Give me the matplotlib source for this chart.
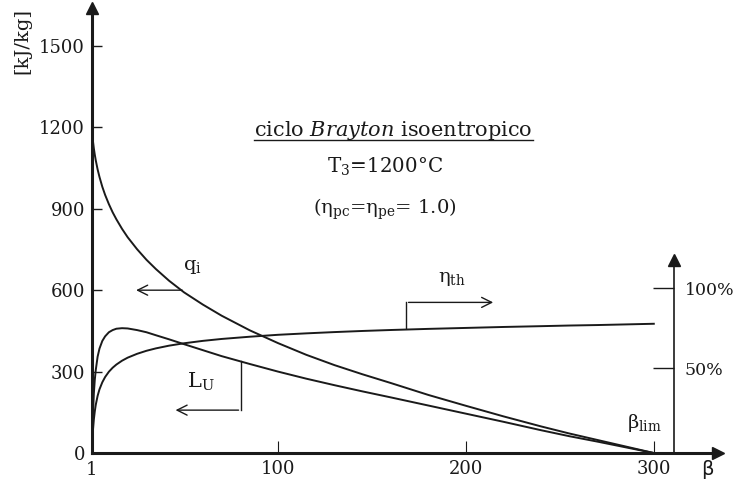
"""
Brayton cycle: heat input, useful work and thermal efficiency vs pressure ratio
"""
import matplotlib.pyplot as plt
from matplotlib.lines import Line2D

plt.rcParams["mathtext.fontset"] = "dejavuserif"
plt.rcParams["font.family"] = "DejaVu Serif"

# values
beta = [1, 1.2, 1.5, 2, 2.5, 3, 4, 5, 6.5, 8, 10, 12, 14, 17, 20, 25, 30, 35, 42,
        50, 60, 70, 85, 100, 115, 130, 145, 160, 180, 200, 220, 240, 255, 270, 285, 300]
q_in = [1185, 1170, 1150, 1122, 1099, 1079, 1045, 1017, 981, 951, 917, 887, 861,
        826, 795, 751, 712, 678, 635, 592, 547, 506, 452, 405, 362, 324, 290, 258,
        214, 174, 135, 98, 72, 48, 24, 0]
work = [0, 70, 140, 220, 270, 305, 355, 385, 413, 430, 445, 453, 458, 460, 459,
        453, 445, 434, 419, 401, 379, 357, 328, 300, 274, 250, 227, 205, 175, 145,
        115, 84, 62, 42, 21, 0]
eta = [0.0, 0.05, 0.11, 0.18, 0.23, 0.27, 0.327, 0.368, 0.412, 0.445, 0.478, 0.503,
       0.523, 0.547, 0.566, 0.59, 0.609, 0.624, 0.641, 0.656, 0.671, 0.683, 0.697,
       0.709, 0.718, 0.726, 0.733, 0.739, 0.746, 0.752, 0.758, 0.763, 0.767, 0.77,
       0.774, 0.778]

x_ticks = [100, 200, 300]
x_labels = ["100", "200", "300"]
y_ticks = [0, 300, 600, 900, 1200, 1500]
eta_ticks = [0.5, 1.0]
eta_labels = ["50%", "100%"]

ink = "#1a1a1a"
fs = 13

fig = plt.figure(figsize=(7.37, 4.88), dpi=100)
ax = fig.add_axes([0.1248, 0.0717, 0.849, 0.912])
ax.set_xlim(1, 334)
ax.set_ylim(0, 1640)

ax.plot(beta, q_in, color=ink, lw=1.4)
ax.plot(beta, work, color=ink, lw=1.4)

for side in ["top", "right"]:
    ax.spines[side].set_visible(False)
for side in ["left", "bottom"]:
    ax.spines[side].set_linewidth(2.2)
    ax.spines[side].set_color(ink)
ax.plot(1, 1, "^", color=ink, ms=9, transform=ax.get_xaxis_transform(), clip_on=False)
ax.plot(1, 0, ">", color=ink, ms=9, transform=ax.get_yaxis_transform(), clip_on=False)

ax.set_xticks(x_ticks)
ax.set_xticklabels(x_labels)
ax.set_yticks(y_ticks)
ax.tick_params(axis="x", direction="in", length=9, width=0.8, labelsize=fs,
               colors=ink, pad=5)
ax.tick_params(axis="y", direction="in", length=7, width=1, labelsize=fs,
               colors=ink, pad=5)
ax.text(1, -62, "1", ha="center", va="center", fontsize=fs, color=ink)

# efficiency on its own scale, spine placed inside the plot
ax2 = ax.twinx()
ax2.set_ylim(-18 / 589, (1640 - 18) / 589)
ax2.plot(beta, eta, color=ink, lw=1.4)
for side in ["top", "left", "bottom"]:
    ax2.spines[side].set_visible(False)
ax2.spines["right"].set_position(("data", 310.6))
ax2.spines["right"].set_bounds(-18 / 589, 1.175)
ax2.spines["right"].set_linewidth(1.2)
ax2.spines["right"].set_color(ink)
ax2.plot(310.6, 1.175, "^", color=ink, ms=8, clip_on=False)
ax2.set_yticks(eta_ticks)
ax2.set_yticklabels(eta_labels)
ax2.tick_params(axis="y", direction="in", length=15, width=1, labelsize=fs - 0.5,
                colors=ink, pad=8)

# annotations
title = ax.text(161.5, 1169, r"ciclo $\mathit{Brayton}$ isoentropico",
                ha="center", va="baseline", fontsize=15, color=ink)
ax.text(157, 1033, r"T$_{3}$=1200°C", ha="center", va="baseline", fontsize=14.3,
        color=ink)
ax.text(157, 882, r"(η$_{\mathrm{pc}}$=η$_{\mathrm{pe}}$= 1.0)",
        ha="center", va="baseline", fontsize=14, color=ink)

ax.text(54.5, 673, r"q$_{\mathrm{i}}$", ha="center", va="baseline", fontsize=14,
        color=ink)
ax.annotate("", xy=(23, 600), xytext=(50.5, 600),
            arrowprops=dict(arrowstyle="->", color=ink, lw=1, mutation_scale=18))

ax.text(192.5, 629, r"η$_{\mathrm{th}}$", ha="center", va="baseline", fontsize=14,
        color=ink)
ax.plot([168, 168], [460, 555], color=ink, lw=1)
ax.annotate("", xy=(216, 555), xytext=(168, 555),
            arrowprops=dict(arrowstyle="->", color=ink, lw=1, mutation_scale=18))

ax.text(59, 239, r"L$_{\mathrm{U}}$", ha="center", va="baseline", fontsize=15,
        color=ink)
ax.plot([80.5, 80.5], [158, 340], color=ink, lw=1)
ax.annotate("", xy=(44, 158), xytext=(80.5, 158),
            arrowprops=dict(arrowstyle="->", color=ink, lw=1, mutation_scale=18))

ax.text(295, 92, r"β$_{\mathrm{lim}}$", ha="center", va="baseline", fontsize=14,
        color=ink)

ax.text(328.5, -62, "β", family="DejaVu Sans", ha="center", va="center",
        fontsize=fs + 1, color=ink)
fig.text(0.03, 0.984, "[kJ/kg]", rotation=90, ha="center", va="top",
         fontsize=14, color=ink)

# underline the title (mathtext has no \underline)
fig.canvas.draw()
bb = title.get_window_extent().transformed(fig.transFigure.inverted())
fig.add_artist(Line2D([bb.x0, bb.x1], [bb.y0 + 0.004, bb.y0 + 0.004],
                      transform=fig.transFigure, color=ink, lw=1))

fig.savefig("out.png", dpi=100)
